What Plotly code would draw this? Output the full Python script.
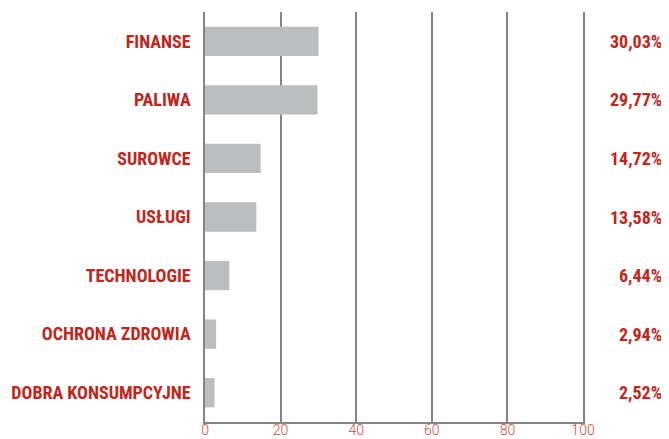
import plotly.graph_objects as go

categories = ["FINANSE", "PALIWA", "SUROWCE", "USŁUGI", "TECHNOLOGIE", "OCHRONA ZDROWIA", "DOBRA KONSUMPCYJNE"]
values = [30.03, 29.77, 14.72, 13.58, 6.44, 2.94, 2.52]
value_labels = ["30,03%", "29,77%", "14,72%", "13,58%", "6,44%", "2,94%", "2,52%"]
x_ticks = [0, 20, 40, 60, 80, 100]

RED = "#c0261c"
label_font = dict(family="Liberation Sans Narrow, Roboto Condensed, Liberation Sans", size=18, color=RED, weight="bold")

fig = go.Figure()
fig.add_trace(go.Bar(
    x=values, y=categories, orientation="h",
    marker=dict(color="#bcbdbf", line=dict(width=0)),
    hoverinfo="skip",
))

for cat, lab in zip(categories, value_labels):
    fig.add_annotation(
        x=1.214, xref="paper", y=cat, yref="y",
        text=lab, showarrow=False, xanchor="right", yanchor="middle",
        font=label_font,
    )

fig.update_layout(
    width=661, height=431,
    margin=dict(l=197, r=86, t=4, b=17),
    paper_bgcolor="white", plot_bgcolor="white",
    bargap=0.5,
    showlegend=False,
    xaxis=dict(
        range=[0, 100], tickvals=x_ticks, ticktext=[str(v) for v in x_ticks],
        showgrid=True, gridcolor="#858585", gridwidth=1.5,
        showline=True, linecolor="#858585", linewidth=1.5,
        zeroline=False, ticks="", automargin=False,
        tickfont=dict(family="Roboto", size=14, color="#d4483a", weight=300),
        ticklabelstandoff=-6,
        fixedrange=True,
    ),
    yaxis=dict(
        autorange="reversed", type="category",
        showgrid=False, zeroline=False,
        showline=True, mirror=True, linecolor="#858585", linewidth=1.5,
        ticks="",
        automargin=False,
        tickfont=label_font,
        ticklabelstandoff=9,
        fixedrange=True,
    ),
)

fig.write_html("out.html")
